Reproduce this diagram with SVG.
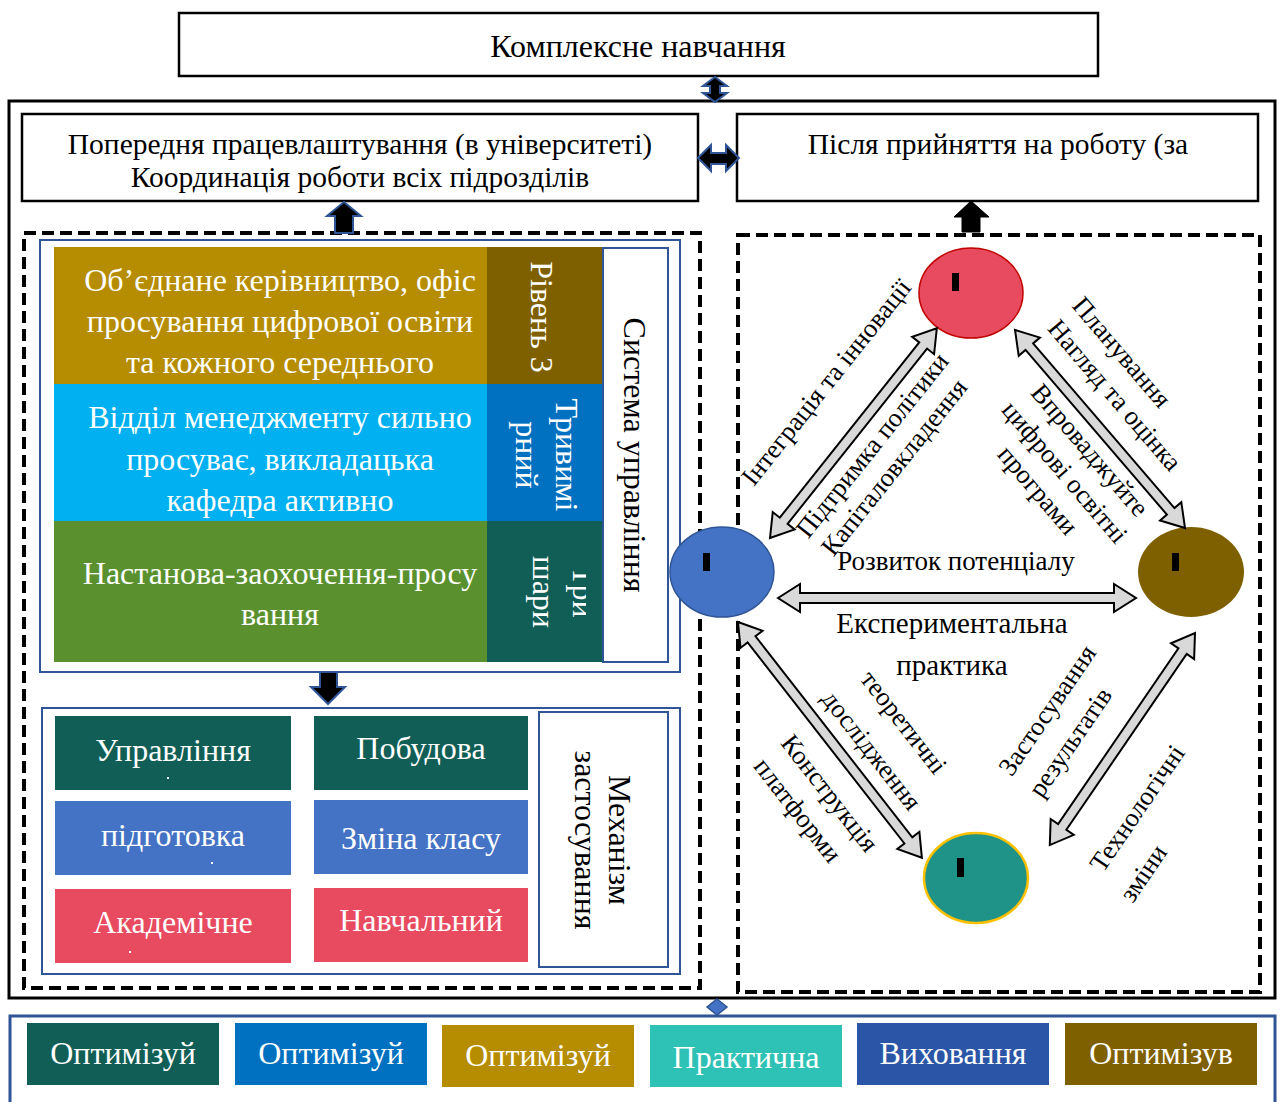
<svg xmlns="http://www.w3.org/2000/svg" width="1280" height="1102" viewBox="0 0 1280 1102">
  <style>
    text { font-family: "Liberation Serif", "Times New Roman", serif; }
    .box { fill: #ffffff; stroke: #000000; stroke-width: 2.5; }
    .frame { fill: none; stroke: #000000; stroke-width: 3; }
    .dash { fill: none; stroke: #000000; stroke-width: 4; stroke-dasharray: 12 6; }
    .bluebox { fill: none; stroke: #2F5597; stroke-width: 2; }
    .whitebox { fill: #ffffff; stroke: #2F5597; stroke-width: 2; }
    .t32 { font-size: 32px; fill: #000000; }
    .t29 { font-size: 29.5px; fill: #000000; }
    .w32 { font-size: 32px; fill: #ffffff; }
    .mid { text-anchor: middle; }
    .lab { font-size: 26.5px; fill: #000000; text-anchor: middle; dominant-baseline: central; }
    .dbl { fill: #D9D9D9; stroke: #000000; stroke-width: 2; stroke-linejoin: miter; }
    .conn { fill: #000000; stroke: #2F5597; stroke-width: 2; }
    .mark { fill: #000000; }
  </style>
  <defs>
    <clipPath id="col3clip">
      <rect x="487" y="521" width="99" height="141"/>
    </clipPath>
  </defs>

  <!-- title -->
  <g id="title">
    <rect class="box" x="179" y="13" width="919" height="63"/>
    <text class="t32 mid" x="638" y="57">Комплексне навчання</text>
  </g>

  <!-- main frame -->
  <rect id="main-frame" class="frame" x="9" y="101" width="1266" height="897"/>

  <!-- section headers -->
  <g id="header-before">
    <rect class="box" x="22" y="114" width="676" height="87"/>
    <text class="t29 mid" x="360" y="154">Попередня працевлаштування (в університеті)</text>
    <text class="t29 mid" x="360" y="187">Координація роботи всіх підрозділів</text>
  </g>
  <g id="header-after">
    <rect class="box" x="737" y="114" width="521" height="87"/>
    <text class="t29 mid" x="998" y="154">Після прийняття на роботу (за</text>
  </g>

  <!-- dashed sections -->
  <rect id="left-section" class="dash" x="24" y="233" width="676" height="755"/>
  <rect id="right-section" class="dash" x="738" y="235" width="522" height="757"/>

  <!-- management system -->
  <g id="management-system">
    <rect class="bluebox" x="40" y="240" width="640" height="432"/>
    <rect x="54" y="247" width="433" height="137" fill="#B68C00"/>
    <rect x="487" y="247" width="116" height="137" fill="#7F6000"/>
    <rect x="54" y="384" width="433" height="137" fill="#00B0F0"/>
    <rect x="487" y="384" width="116" height="137" fill="#0070C0"/>
    <rect x="54" y="521" width="433" height="141" fill="#5A912E"/>
    <rect x="487" y="521" width="116" height="141" fill="#115E57"/>

    <text class="w32 mid" x="280" y="291">Об’єднане керівництво, офіс</text>
    <text class="w32 mid" x="280" y="332">просування цифрової освіти</text>
    <text class="w32 mid" x="280" y="373">та кожного середнього</text>

    <text class="w32 mid" x="280" y="428">Відділ менеджменту сильно</text>
    <text class="w32 mid" x="280" y="470">просуває, викладацька</text>
    <text class="w32 mid" x="280" y="511">кафедра активно</text>

    <text class="w32 mid" x="280" y="584">Настанова-заохочення-просу</text>
    <text class="w32 mid" x="280" y="625">вання</text>

    <text class="w32 mid" transform="translate(531,317) rotate(90)">Рівень 3</text>
    <g transform="translate(545,455) rotate(90)">
      <text class="w32 mid" x="0" y="-11">Тривимі</text>
      <text class="w32 mid" x="0" y="29">рний</text>
    </g>
    <g clip-path="url(#col3clip)">
      <g transform="translate(545,592) rotate(90)">
        <text class="w32 mid" x="0" y="-28">Три</text>
        <text class="w32 mid" x="0" y="12">шари</text>
      </g>
    </g>

    <rect class="whitebox" x="603" y="248" width="65" height="414"/>
    <text class="t32 mid" transform="translate(624,455) rotate(90)">Система управління</text>
  </g>

  <!-- application mechanism -->
  <g id="application-mechanism">
    <rect class="bluebox" x="42" y="708" width="638" height="266"/>
    <rect x="55" y="716" width="236" height="74" fill="#115E57"/>
    <rect x="314" y="716" width="214" height="74" fill="#115E57"/>
    <rect x="55" y="801" width="236" height="74" fill="#4472C4"/>
    <rect x="314" y="800" width="214" height="74" fill="#4472C4"/>
    <rect x="55" y="889" width="236" height="74" fill="#E84A5F"/>
    <rect x="314" y="888" width="214" height="74" fill="#E84A5F"/>

    <text class="w32 mid" x="173" y="761">Управління</text>
    <text class="w32 mid" x="421" y="759">Побудова</text>
    <text class="w32 mid" x="173" y="846">підготовка</text>
    <text class="w32 mid" x="421" y="849">Зміна класу</text>
    <text class="w32 mid" x="173" y="933">Академічне</text>
    <text class="w32 mid" x="421" y="931">Навчальний</text>
    <rect x="167" y="777" width="2" height="2" fill="#ffffff"/>
    <rect x="211" y="862" width="2" height="2" fill="#ffffff"/>
    <rect x="129" y="951" width="2" height="2" fill="#ffffff"/>

    <rect class="whitebox" x="539" y="712" width="129" height="255"/>
    <g transform="translate(600,840) rotate(90)">
      <text class="t32 mid" x="0" y="-9">Механізм</text>
      <text class="t32 mid" x="0" y="25">застосування</text>
    </g>
  </g>

  <!-- cycle nodes -->
  <g id="node-top">
    <ellipse cx="971" cy="293" rx="52" ry="45" fill="#E84A5F" stroke="#C00000" stroke-width="1.5"/>
    <rect class="mark" x="952" y="273" width="7" height="18"/>
  </g>
  <g id="node-left">
    <ellipse cx="722" cy="572" rx="52" ry="45" fill="#4472C4" stroke="#2F5597" stroke-width="1.5"/>
    <rect class="mark" x="703" y="553" width="7" height="18"/>
  </g>
  <g id="node-right">
    <ellipse cx="1191" cy="572" rx="53" ry="45" fill="#7F6000"/>
    <rect class="mark" x="1172" y="553" width="7" height="18"/>
  </g>
  <g id="node-bottom">
    <ellipse cx="976" cy="878" rx="52" ry="45" fill="#1F9387" stroke="#FFC000" stroke-width="2.5"/>
    <rect class="mark" x="957" y="858" width="7" height="19"/>
  </g>

  <!-- connectors -->
  <g id="connectors">
    <polygon class="conn" points="715,77 727,86 720,86 720,93 727,93 715,102 703,93 710,93 710,86 703,86"/>
    <polygon class="conn" points="698,158 711,145 711,153 726,153 726,145 739,158 726,171 726,164 711,164 711,171"/>
    <polygon class="conn" points="344,202 361,216 353,216 353,233 335,233 335,216 327,216"/>
    <polygon fill="#000000" stroke="#000000" stroke-width="1" points="971,201 989,217 980,217 980,232 962,232 962,217 954,217"/>
    <polygon class="conn" points="320,672 337,672 337,687 345,687 328,704 311,687 320,687"/>
    <polygon fill="#4472C4" stroke="#2F5597" stroke-width="1.5" points="717,999 727,1007 717,1015 707,1007"/>

    <polygon class="dbl" transform="translate(770,538) rotate(-51.5)" points="0,0 22,-14 22,-5 246,-5 246,-14 268,0 246,14 246,5 22,5 22,14"/>
    <polygon class="dbl" transform="translate(1015,330) rotate(49.35)" points="0,0 22,-14 22,-5 239,-5 239,-14 261,0 239,14 239,5 22,5 22,14"/>
    <polygon class="dbl" transform="translate(778,598)" points="0,0 22,-14 22,-5 336,-5 336,-14 358,0 336,14 336,5 22,5 22,14"/>
    <polygon class="dbl" transform="translate(738,622) rotate(52.05)" points="0,0 22,-14 22,-5 277,-5 277,-14 299,0 277,14 277,5 22,5 22,14"/>
    <polygon class="dbl" transform="translate(1195,633) rotate(124.4)" points="0,0 22,-14 22,-5 235,-5 235,-14 257,0 235,14 235,5 22,5 22,14"/>
  </g>

  <!-- connector labels -->
  <g id="connector-labels">
    <text class="lab" transform="translate(826,382) rotate(-51.5)">Інтеграція та інновації</text>
    <text class="lab" transform="translate(872,445) rotate(-51.5)">Підтримка політики</text>
    <text class="lab" transform="translate(894,467) rotate(-51.5)">Капіталовкладення</text>

    <text class="lab" transform="translate(1122,352) rotate(49.4)">Планування</text>
    <text class="lab" transform="translate(1115,395) rotate(49.4)">Нагляд та оцінка</text>
    <text class="lab" transform="translate(1090,450) rotate(49.4)">Впроваджуйте</text>
    <text class="lab" transform="translate(1065,472) rotate(49.4)">цифрові освітні</text>
    <text class="lab" transform="translate(1038,490) rotate(49.4)">програми</text>

    <text class="mid" x="956" y="570" font-size="27">Розвиток потенціалу</text>
    <text class="mid" x="952" y="633" font-size="29">Експериментальна</text>
    <text class="mid" x="952" y="675" font-size="29">практика</text>

    <text class="lab" transform="translate(904,722) rotate(52)">теоретичні</text>
    <text class="lab" transform="translate(872,750) rotate(52)">дослідження</text>
    <text class="lab" transform="translate(830,793) rotate(52)">Конструкція</text>
    <text class="lab" transform="translate(798,810) rotate(52)">платформи</text>

    <text class="lab" transform="translate(1047,710) rotate(-55.6)">Застосування</text>
    <text class="lab" transform="translate(1070,742) rotate(-55.6)">результатів</text>
    <text class="lab" transform="translate(1137,808) rotate(-55.6)">Технологічні</text>
    <text class="lab" transform="translate(1143,873) rotate(-55.6)">зміни</text>
  </g>

  <!-- optimisation row -->
  <g id="optimisation-row">
    <rect x="10" y="1016" width="1265" height="100" fill="none" stroke="#2F5597" stroke-width="3"/>
    <rect x="27" y="1023" width="192" height="62" fill="#115E57"/>
    <rect x="235" y="1023" width="192" height="62" fill="#0070C0"/>
    <rect x="442" y="1025" width="192" height="62" fill="#B68C00"/>
    <rect x="650" y="1025" width="192" height="62" fill="#2EC1B5"/>
    <rect x="857" y="1023" width="192" height="62" fill="#2B55A6"/>
    <rect x="1065" y="1023" width="192" height="62" fill="#7F6000"/>
    <text class="w32 mid" x="123" y="1064">Оптимізуй</text>
    <text class="w32 mid" x="331" y="1064">Оптимізуй</text>
    <text class="w32 mid" x="538" y="1066">Оптимізуй</text>
    <text class="w32 mid" x="746" y="1068">Практична</text>
    <text class="w32 mid" x="953" y="1064">Виховання</text>
    <text class="w32 mid" x="1161" y="1064">Оптимізув</text>
  </g>
</svg>
